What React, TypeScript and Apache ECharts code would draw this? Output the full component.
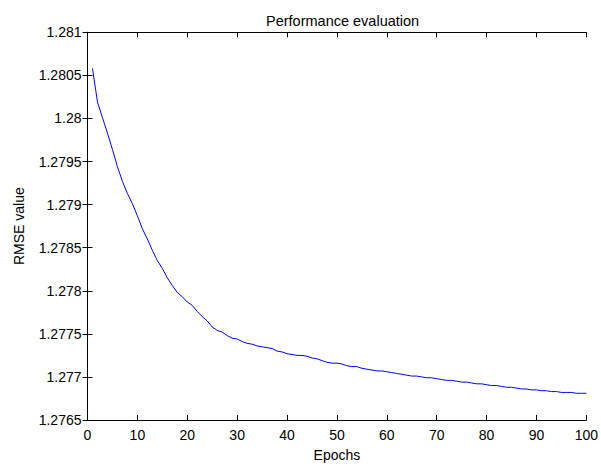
import React, { useEffect, useRef } from "react";
import * as echarts from "echarts";

const titleText = "Performance evaluation";
const xName = "Epochs";
const yName = "RMSE value";

const epochs: number[] = Array.from({ length: 100 }, (_, i) => i + 1);

const rmseValues: number[] = [
  1.28058, 1.28019, 1.28001, 1.27983, 1.27964, 1.27944, 1.27927, 1.27913, 1.27901, 1.27887,
  1.27872, 1.2786, 1.27847, 1.27835, 1.27826, 1.27815, 1.27806, 1.27798, 1.27793, 1.27787,
  1.27783, 1.27776, 1.2777, 1.27765, 1.27758, 1.27754, 1.27752, 1.27748, 1.27745, 1.27744,
  1.27741, 1.27739, 1.27738, 1.27736, 1.27735, 1.27734, 1.27733, 1.2773, 1.27729, 1.27727,
  1.27726, 1.27725, 1.27725, 1.27724, 1.27722, 1.27721, 1.27719, 1.27717, 1.27716, 1.27716,
  1.27715, 1.27713, 1.27712, 1.27712, 1.2771, 1.27709, 1.27708, 1.27707, 1.27707, 1.27706,
  1.27705, 1.27704, 1.27703, 1.27702, 1.27701, 1.27701, 1.277, 1.27699, 1.27699, 1.27698,
  1.27697, 1.27696, 1.27696, 1.27695, 1.27694, 1.27694, 1.27693, 1.27692, 1.27692, 1.27691,
  1.2769, 1.2769, 1.27689, 1.27688, 1.27688, 1.27687, 1.27686, 1.27686, 1.27685, 1.27685,
  1.27684, 1.27684, 1.27683, 1.27683, 1.27682, 1.27682, 1.27682, 1.27681, 1.27681, 1.27681,
];

const xMin = 0;
const xMax = 100;
const xStep = 10;
const yMin = 1.2765;
const yMax = 1.281;
const yStep = 0.0005;

const FONT = "'Liberation Sans', Arial, Helvetica, sans-serif";

export default function App() {
  const ref = useRef<HTMLDivElement>(null);

  useEffect(() => {
    if (!ref.current) return;
    const chart = echarts.init(ref.current, undefined, { renderer: "svg" });
    const axisLine = { show: true, lineStyle: { color: "#000", width: 1 } };
    const tickIn = { show: true, inside: true, length: 5, lineStyle: { color: "#000", width: 1 } };
    const yFmt = (v: number) => parseFloat(v.toFixed(4)).toString();

    chart.setOption({
      animation: false,
      backgroundColor: "#fff",
      textStyle: { fontFamily: FONT },
      title: {
        text: titleText,
        left: 337.6,
        textAlign: "center",
        top: 8,
        textStyle: { fontFamily: FONT, fontSize: 14.5, fontWeight: "normal", color: "#000" },
      },
      grid: { left: 87.5, right: 13.3, top: 32.3, bottom: 41, containLabel: false },
      xAxis: [
        {
          type: "value",
          position: "bottom",
          min: xMin,
          max: xMax,
          interval: xStep,
          name: xName,
          nameLocation: "middle",
          nameGap: 28,
          nameTextStyle: { fontFamily: FONT, fontSize: 14, color: "#000" },
          axisLine,
          axisTick: tickIn,
          axisLabel: { fontFamily: FONT, fontSize: 14, color: "#000", margin: 8 },
          splitLine: { show: false },
        },
        {
          type: "value",
          position: "top",
          min: xMin,
          max: xMax,
          interval: xStep,
          axisLine,
          axisTick: tickIn,
          axisLabel: { show: false },
          splitLine: { show: false },
        },
      ],
      yAxis: [
        {
          type: "value",
          position: "left",
          min: yMin,
          max: yMax,
          interval: yStep,
          name: yName,
          nameLocation: "middle",
          nameGap: 62,
          nameTextStyle: { fontFamily: FONT, fontSize: 14, color: "#000" },
          axisLine,
          axisTick: tickIn,
          axisLabel: { fontFamily: FONT, fontSize: 14, color: "#000", margin: 6, formatter: yFmt },
          splitLine: { show: false },
        },
        {
          type: "value",
          position: "right",
          min: yMin,
          max: yMax,
          interval: yStep,
          axisLine,
          axisTick: tickIn,
          axisLabel: { show: false },
          splitLine: { show: false },
        },
      ],
      series: [
        {
          type: "line",
          xAxisIndex: 0,
          yAxisIndex: 0,
          data: epochs.map((e, i) => [e, rmseValues[i]]),
          showSymbol: false,
          symbol: "none",
          lineStyle: { color: "#0000ff", width: 1 },
          itemStyle: { color: "#0000ff" },
        },
      ],
    });
    return () => chart.dispose();
  }, []);

  return (
    <div
      ref={ref}
      style={{ position: "fixed", left: 0, top: 0, width: 601, height: 467, background: "#fff" }}
    />
  );
}
